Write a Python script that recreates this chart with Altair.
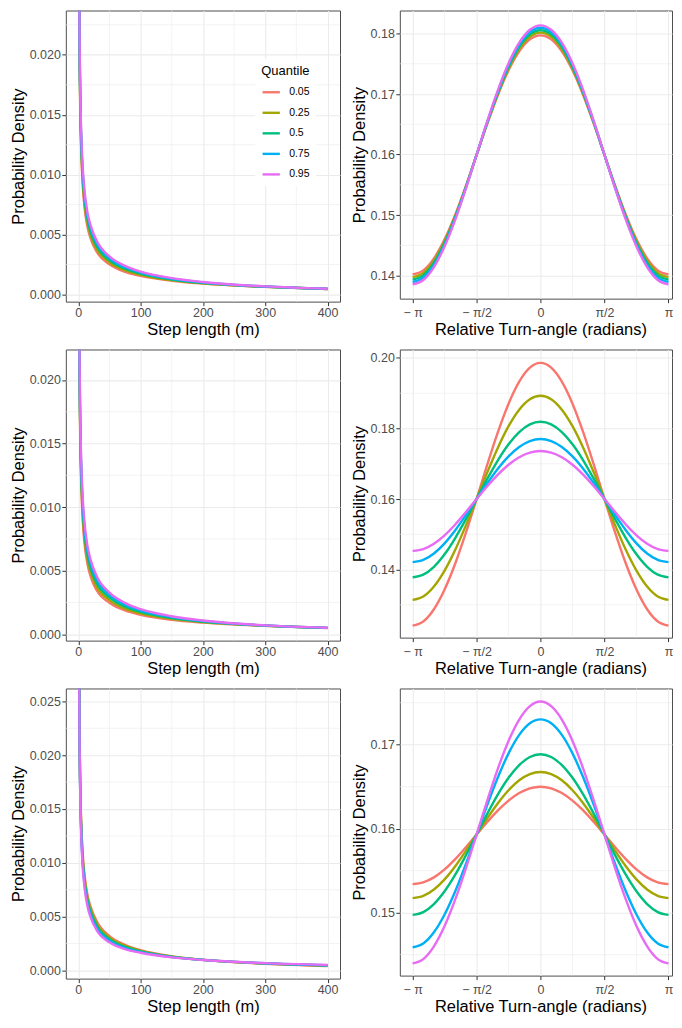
import altair as alt
import pandas as pd

quantiles = ["0.05", "0.25", "0.5", "0.75", "0.95"]
colors = ["#F8766D", "#A3A500", "#00BF7D", "#00B0F6", "#E76BF3"]

# ---------------- step-length panels ----------------
step_x = [1, 2, 3, 5, 7, 10, 15, 20, 30, 50, 75, 100, 150, 200, 300, 400]
step_ticks = [0, 100, 200, 300, 400]
step_minor = [50, 150, 250, 350]

step_top = {
    "0.05": [0.03175, 0.02076, 0.01603, 0.01156, 0.00925, 0.00728, 0.00558, 0.00463, 0.00352, 0.00252, 0.00189, 0.00155, 0.00114, 0.00090, 0.00063, 0.00045],
    "0.25": [0.03208, 0.02108, 0.01637, 0.01193, 0.00962, 0.00764, 0.00589, 0.00491, 0.00376, 0.00269, 0.00202, 0.00164, 0.00119, 0.00094, 0.00064, 0.00046],
    "0.5":  [0.03240, 0.02140, 0.01670, 0.01230, 0.01000, 0.00800, 0.00620, 0.00520, 0.00400, 0.00286, 0.00215, 0.00174, 0.00125, 0.00097, 0.00065, 0.00046],
    "0.75": [0.03272, 0.02172, 0.01703, 0.01267, 0.01035, 0.00832, 0.00648, 0.00546, 0.00422, 0.00302, 0.00227, 0.00183, 0.00131, 0.00100, 0.00066, 0.00047],
    "0.95": [0.03305, 0.02204, 0.01737, 0.01304, 0.01070, 0.00864, 0.00676, 0.00572, 0.00444, 0.00317, 0.00239, 0.00191, 0.00136, 0.00104, 0.00067, 0.00048],
}
step_mid = {
    "0.05": [0.03162, 0.02063, 0.01590, 0.01141, 0.00910, 0.00714, 0.00546, 0.00451, 0.00342, 0.00248, 0.00187, 0.00153, 0.00114, 0.00092, 0.00066, 0.00049],
    "0.25": [0.03201, 0.02101, 0.01630, 0.01186, 0.00954, 0.00757, 0.00583, 0.00486, 0.00371, 0.00269, 0.00202, 0.00164, 0.00121, 0.00096, 0.00067, 0.00050],
    "0.5":  [0.03240, 0.02140, 0.01670, 0.01230, 0.01000, 0.00800, 0.00620, 0.00520, 0.00400, 0.00290, 0.00218, 0.00176, 0.00128, 0.00100, 0.00068, 0.00050],
    "0.75": [0.03279, 0.02179, 0.01710, 0.01274, 0.01042, 0.00838, 0.00653, 0.00551, 0.00426, 0.00309, 0.00232, 0.00187, 0.00135, 0.00104, 0.00069, 0.00050],
    "0.95": [0.03318, 0.02217, 0.01750, 0.01319, 0.01084, 0.00877, 0.00687, 0.00582, 0.00453, 0.00328, 0.00247, 0.00197, 0.00142, 0.00108, 0.00070, 0.00051],
}
step_bot = {
    "0.05": [0.03300, 0.02244, 0.01772, 0.01334, 0.01092, 0.00888, 0.00691, 0.00589, 0.00451, 0.00319, 0.00238, 0.00188, 0.00131, 0.00099, 0.00062, 0.00041],
    "0.25": [0.03300, 0.02222, 0.01746, 0.01302, 0.01061, 0.00859, 0.00666, 0.00564, 0.00431, 0.00305, 0.00228, 0.00182, 0.00129, 0.00098, 0.00064, 0.00044],
    "0.5":  [0.03300, 0.02200, 0.01720, 0.01270, 0.01030, 0.00830, 0.00640, 0.00540, 0.00410, 0.00290, 0.00218, 0.00176, 0.00126, 0.00098, 0.00065, 0.00046],
    "0.75": [0.03300, 0.02178, 0.01694, 0.01238, 0.00999, 0.00801, 0.00614, 0.00516, 0.00390, 0.00276, 0.00208, 0.00170, 0.00123, 0.00098, 0.00066, 0.00048],
    "0.95": [0.03300, 0.02156, 0.01668, 0.01207, 0.00968, 0.00772, 0.00589, 0.00491, 0.00369, 0.00261, 0.00198, 0.00164, 0.00121, 0.00097, 0.00068, 0.00051],
}

step_top_ydomain = [-0.0006, 0.0237]
step_mid_ydomain = [-0.0005, 0.0224]
step_bot_ydomain = [-0.00076, 0.0262]
step_top_yticks = [0.0, 0.005, 0.010, 0.015, 0.020]
step_mid_yticks = [0.0, 0.005, 0.010, 0.015, 0.020]
step_bot_yticks = [0.0, 0.005, 0.010, 0.015, 0.020, 0.025]
step_top_yminor = [0.0025, 0.0075, 0.0125, 0.0175, 0.0225]
step_mid_yminor = [0.0025, 0.0075, 0.0125, 0.0175]
step_bot_yminor = [0.0025, 0.0075, 0.0125, 0.0175, 0.0225]

# ---------------- turning-angle panels (every pi/12) ----------------
angle_x = [-3.14159, -2.87979, -2.61799, -2.35619, -2.0944, -1.8326, -1.5708,
           -1.309, -1.0472, -0.7854, -0.5236, -0.2618, 0.0,
           0.2618, 0.5236, 0.7854, 1.0472, 1.309, 1.5708,
           1.8326, 2.0944, 2.35619, 2.61799, 2.87979, 3.14159]
angle_ticks = [-3.14159265, -1.57079633, 0.0, 1.57079633, 3.14159265]
angle_tick_labels = ["\u2212 \u03c0", "\u2212 \u03c0/2", "0", "\u03c0/2", "\u03c0"]
angle_minor = [-2.35619, -0.785398, 0.785398, 2.35619]

angle_top = {
    "0.05": [0.14020, 0.14087, 0.14285, 0.14599, 0.15008, 0.15484, 0.15995, 0.16506, 0.16983, 0.17392, 0.17705, 0.17903, 0.17970,
             0.17903, 0.17705, 0.17392, 0.16983, 0.16506, 0.15995, 0.15484, 0.15008, 0.14599, 0.14285, 0.14087, 0.14020],
    "0.25": [0.13975, 0.14044, 0.14246, 0.14567, 0.14985, 0.15472, 0.15995, 0.16518, 0.17005, 0.17423, 0.17744, 0.17946, 0.18015,
             0.17946, 0.17744, 0.17423, 0.17005, 0.16518, 0.15995, 0.15472, 0.14985, 0.14567, 0.14246, 0.14044, 0.13975],
    "0.5":  [0.13935, 0.14005, 0.14211, 0.14538, 0.14965, 0.15462, 0.15995, 0.16528, 0.17025, 0.17452, 0.17779, 0.17985, 0.18055,
             0.17985, 0.17779, 0.17452, 0.17025, 0.16528, 0.15995, 0.15462, 0.14965, 0.14538, 0.14211, 0.14005, 0.13935],
    "0.75": [0.13895, 0.13967, 0.14176, 0.14510, 0.14945, 0.15452, 0.15995, 0.16539, 0.17045, 0.17480, 0.17814, 0.18023, 0.18095,
             0.18023, 0.17814, 0.17480, 0.17045, 0.16539, 0.15995, 0.15452, 0.14945, 0.14510, 0.14176, 0.13967, 0.13895],
    "0.95": [0.13855, 0.13928, 0.14142, 0.14482, 0.14925, 0.15441, 0.15995, 0.16549, 0.17065, 0.17508, 0.17848, 0.18062, 0.18135,
             0.18062, 0.17848, 0.17508, 0.17065, 0.16549, 0.15995, 0.15441, 0.14925, 0.14482, 0.14142, 0.13928, 0.13855],
}
angle_mid = {
    "0.05": [0.12410, 0.12528, 0.12875, 0.13434, 0.14171, 0.15045, 0.16000, 0.16973, 0.17896, 0.18702, 0.19327, 0.19724, 0.19860,
             0.19724, 0.19327, 0.18702, 0.17896, 0.16973, 0.16000, 0.15045, 0.14171, 0.13434, 0.12875, 0.12528, 0.12410],
    "0.25": [0.13140, 0.13236, 0.13519, 0.13970, 0.14561, 0.15253, 0.16000, 0.16752, 0.17456, 0.18065, 0.18533, 0.18829, 0.18930,
             0.18829, 0.18533, 0.18065, 0.17456, 0.16752, 0.16000, 0.15253, 0.14561, 0.13970, 0.13519, 0.13236, 0.13140],
    "0.5":  [0.13780, 0.13856, 0.14079, 0.14433, 0.14894, 0.15428, 0.16000, 0.16570, 0.17099, 0.17552, 0.17898, 0.18116, 0.18190,
             0.18116, 0.17898, 0.17552, 0.17099, 0.16570, 0.16000, 0.15428, 0.14894, 0.14433, 0.14079, 0.13856, 0.13780],
    "0.75": [0.14210, 0.14273, 0.14455, 0.14744, 0.15116, 0.15545, 0.16000, 0.16449, 0.16861, 0.17211, 0.17477, 0.17644, 0.17700,
             0.17644, 0.17477, 0.17211, 0.16861, 0.16449, 0.16000, 0.15545, 0.15116, 0.14744, 0.14455, 0.14273, 0.14210],
    "0.95": [0.14530, 0.14582, 0.14733, 0.14972, 0.15279, 0.15630, 0.16000, 0.16363, 0.16694, 0.16973, 0.17184, 0.17316, 0.17360,
             0.17316, 0.17184, 0.16973, 0.16694, 0.16363, 0.16000, 0.15630, 0.15279, 0.14972, 0.14733, 0.14582, 0.14530],
}
angle_bot = {
    "0.05": [0.15340, 0.15361, 0.15420, 0.15515, 0.15638, 0.15779, 0.15930, 0.16079, 0.16218, 0.16335, 0.16425, 0.16481, 0.16500,
             0.16481, 0.16425, 0.16335, 0.16218, 0.16079, 0.15930, 0.15779, 0.15638, 0.15515, 0.15420, 0.15361, 0.15340],
    "0.25": [0.15173, 0.15199, 0.15275, 0.15396, 0.15553, 0.15735, 0.15930, 0.16124, 0.16304, 0.16458, 0.16576, 0.16650, 0.16675,
             0.16650, 0.16576, 0.16458, 0.16304, 0.16124, 0.15930, 0.15735, 0.15553, 0.15396, 0.15275, 0.15199, 0.15173],
    "0.5":  [0.14973, 0.15006, 0.15102, 0.15254, 0.15452, 0.15682, 0.15930, 0.16177, 0.16408, 0.16606, 0.16758, 0.16854, 0.16886,
             0.16854, 0.16758, 0.16606, 0.16408, 0.16177, 0.15930, 0.15682, 0.15452, 0.15254, 0.15102, 0.15006, 0.14973],
    "0.75": [0.14588, 0.14633, 0.14766, 0.14978, 0.15255, 0.15580, 0.15930, 0.16282, 0.16612, 0.16897, 0.17117, 0.17255, 0.17302,
             0.17255, 0.17117, 0.16897, 0.16612, 0.16282, 0.15930, 0.15580, 0.15255, 0.14978, 0.14766, 0.14633, 0.14588],
    "0.95": [0.14396, 0.14447, 0.14599, 0.14840, 0.15157, 0.15528, 0.15930, 0.16335, 0.16716, 0.17045, 0.17299, 0.17459, 0.17514,
             0.17459, 0.17299, 0.17045, 0.16716, 0.16335, 0.15930, 0.15528, 0.15157, 0.14840, 0.14599, 0.14447, 0.14396],
}

angle_xdomain = [-3.4558, 3.2288]
angle_top_ydomain = [0.1362, 0.1838]
angle_mid_ydomain = [0.1207, 0.2024]
angle_bot_ydomain = [0.1425, 0.1767]
angle_top_yticks = [0.14, 0.15, 0.16, 0.17, 0.18]
angle_mid_yticks = [0.14, 0.16, 0.18, 0.20]
angle_bot_yticks = [0.15, 0.16, 0.17]
angle_top_yminor = [0.145, 0.155, 0.165, 0.175]
angle_mid_yminor = [0.13, 0.15, 0.17, 0.19]
angle_bot_yminor = [0.145, 0.155, 0.165, 0.175]

FONT = "Liberation Sans"
LEFT_W, RIGHT_W = 275, 273
ROW_H = [292, 292, 291]
RIGHT_SHORTER = 3

legend = alt.Legend(
    title="Quantile", orient="none", legendX=190, legendY=49,
    symbolType="stroke", symbolStrokeWidth=2.4, symbolSize=300,
    labelFontSize=10.5, labelFont=FONT, labelColor="black",
    titleFontSize=13, titleFont=FONT, titleFontWeight="normal", titleColor="black",
    fillColor="white", padding=6, rowPadding=4.6, labelOffset=8, titlePadding=4,
)
color_scale = alt.Scale(domain=quantiles, range=colors)


def long_df(xs, series):
    rows = []
    for q in quantiles:
        for xv, yv in zip(xs, series[q]):
            rows.append({"x": xv, "y": yv, "q": q})
    return pd.DataFrame(rows)


def panel(xs, series, xdomain, xticks, xminor, ydomain, yticks, yminor,
          width, height, xtitle, xtitle_x, ytitle_x, yfmt, xlabel_pad, xtitle_y,
          label_expr=None):
    xscale = alt.Scale(domain=xdomain, nice=False, zero=False)
    yscale = alt.Scale(domain=ydomain, nice=False, zero=False)
    xaxis_kw = dict(values=xticks, title=xtitle, titleX=xtitle_x,
                    titleY=xtitle_y, titleBaseline="alphabetic", titleAlign="center",
                    titleFontWeight="normal",
                    labelPadding=xlabel_pad, tickSize=4, labelOverlap=False,
                    labelFlush=False)
    if label_expr:
        xaxis_kw["labelExpr"] = label_expr
    else:
        xaxis_kw["format"] = "d"
    xaxis = alt.Axis(**xaxis_kw)
    yaxis = alt.Axis(values=yticks, format=yfmt, title="Probability Density",
                     titleAngle=270, titleX=ytitle_x, titleY=height / 2,
                     titleBaseline="alphabetic", titleAlign="center",
                     titleFontWeight="normal",
                     labelPadding=1.5, tickSize=4, labelOverlap=False,
                     labelFlush=False)
    vminor = alt.Chart(pd.DataFrame({"x": xminor})).mark_rule(
        color="#EBEBEB", strokeWidth=0.6).encode(
        x=alt.X("x:Q", scale=xscale, axis=xaxis))
    hminor = alt.Chart(pd.DataFrame({"y": yminor})).mark_rule(
        color="#EBEBEB", strokeWidth=0.6).encode(
        y=alt.Y("y:Q", scale=yscale, axis=yaxis))
    lines = alt.Chart(long_df(xs, series)).mark_line(
        strokeWidth=2.4, interpolate="monotone", clip=True).encode(
        x=alt.X("x:Q", scale=xscale, axis=xaxis),
        y=alt.Y("y:Q", scale=yscale, axis=yaxis),
        color=alt.Color("q:N", scale=color_scale, legend=legend, sort=quantiles),
    )
    return alt.layer(vminor, hminor, lines).properties(width=width, height=height)


angle_expr = "[" + ",".join("'" + s + "'" for s in angle_tick_labels) + "][round(datum.value / 1.5707963) + 2]"

step_sets = [
    (step_top, step_top_ydomain, step_top_yticks, step_top_yminor),
    (step_mid, step_mid_ydomain, step_mid_yticks, step_mid_yminor),
    (step_bot, step_bot_ydomain, step_bot_yticks, step_bot_yminor),
]
angle_sets = [
    (angle_top, angle_top_ydomain, angle_top_yticks, angle_top_yminor),
    (angle_mid, angle_mid_ydomain, angle_mid_yticks, angle_mid_yminor),
    (angle_bot, angle_bot_ydomain, angle_bot_yticks, angle_bot_yminor),
]

panels = []
for i in range(3):
    s, yd, yt, ym = step_sets[i]
    panels.append(panel(step_x, s, [-20, 420], step_ticks, step_minor, yd, yt, ym,
                        LEFT_W, ROW_H[i], "Step length (m)", LEFT_W / 2, -42.5,
                        ".3f", 1, 33))
    a, yd, yt, ym = angle_sets[i]
    panels.append(panel(angle_x, a, angle_xdomain, angle_ticks, angle_minor, yd, yt, ym,
                        RIGHT_W, ROW_H[i] - RIGHT_SHORTER, "Relative Turn-angle (radians)",
                        141, -35.7, ".2f", 4, 36, label_expr=angle_expr))

chart = alt.concat(
    *panels, columns=2,
    spacing=alt.RowColnumber(row=48, column=60),
    bounds="flush", align="each",
).properties(
    padding={"left": 2, "top": 0, "right": 0, "bottom": 0},
).configure(
    background="white", font=FONT,
).configure_view(
    stroke="#4D4D4D", strokeWidth=1,
).configure_axis(
    labelFont=FONT, labelFontSize=12.5, labelColor="#4D4D4D",
    tickColor="#333333", tickWidth=1,
    gridColor="#EBEBEB", gridWidth=1.1, domain=False,
    titleFont=FONT, titleFontSize=16.5, titleColor="black", titleFontWeight="normal",
)

chart.save("out.html", embed_options={"renderer": "svg", "actions": False})
